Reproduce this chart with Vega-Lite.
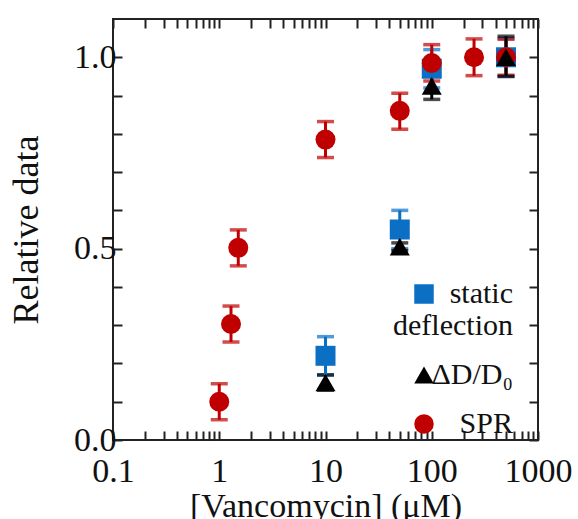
{
  "$schema": "https://vega.github.io/schema/vega-lite/v6.json",
  "width": 425,
  "height": 421,
  "autosize": {"type": "none"},
  "padding": {"left": 113, "top": 19, "right": 40, "bottom": 79},
  "background": "white",
  "config": {
    "font": "Liberation Serif",
    "view": {"stroke": "#222", "strokeWidth": 2},
    "axis": {"grid": false, "domain": false, "tickColor": "#222", "tickWidth": 2, "labelFont": "Liberation Serif", "titleFont": "Liberation Serif", "labelColor": "#111", "titleColor": "#111", "titleFontWeight": "normal"},
    "legend": {"orient": "none", "legendX": 296, "legendY": 260, "title": null, "labelFontSize": 30, "labelFont": "Liberation Serif", "labelColor": "#111", "labelLineHeight": 28, "symbolSize": 380, "symbolStrokeWidth": 0, "symbolOpacity": 1, "rowPadding": 19, "labelOffset": 74, "labelAlign": "right", "labelLimit": 200}
  },
  "datasets": {
    "pts": [
      {"series": "static deflection", "conc": 10, "value": 0.22, "lo": 0.17, "hi": 0.27},
      {"series": "static deflection", "conc": 50, "value": 0.55, "lo": 0.50, "hi": 0.60},
      {"series": "static deflection", "conc": 100, "value": 0.97, "lo": 0.92, "hi": 1.02},
      {"series": "static deflection", "conc": 500, "value": 1.0, "lo": 0.95, "hi": 1.05},
      {"series": "SPR", "conc": 1.0, "value": 0.1, "lo": 0.053, "hi": 0.147},
      {"series": "SPR", "conc": 1.29, "value": 0.303, "lo": 0.256, "hi": 0.35},
      {"series": "SPR", "conc": 1.51, "value": 0.502, "lo": 0.455, "hi": 0.549},
      {"series": "SPR", "conc": 10, "value": 0.785, "lo": 0.738, "hi": 0.832},
      {"series": "SPR", "conc": 50, "value": 0.86, "lo": 0.812, "hi": 0.906},
      {"series": "SPR", "conc": 100, "value": 0.985, "lo": 0.938, "hi": 1.033},
      {"series": "SPR", "conc": 250, "value": 1.0, "lo": 0.952, "hi": 1.048},
      {"series": "SPR", "conc": 500, "value": 1.0, "lo": 0.953, "hi": 1.047},
      {"series": "ΔD/D₀", "conc": 10, "value": 0.15, "lo": 0.13, "hi": 0.17},
      {"series": "ΔD/D₀", "conc": 50, "value": 0.505, "lo": 0.495, "hi": 0.515},
      {"series": "ΔD/D₀", "conc": 100, "value": 0.925, "lo": 0.89, "hi": 0.955},
      {"series": "ΔD/D₀", "conc": 500, "value": 1.0, "lo": 0.95, "hi": 1.055}
    ]
  },
  "data": {"name": "pts"},
  "resolve": {"axis": {"x": "independent", "y": "independent"}},
  "layer": [
    {
      "mark": {"type": "errorbar", "ticks": {"size": 17, "thickness": 3.5}, "rule": {"strokeWidth": 3}},
      "encoding": {
        "x": {"field": "conc", "type": "quantitative",
          "scale": {"type": "log", "domain": [0.1, 1000], "nice": false},
          "axis": {"orient": "bottom", "title": "[Vancomycin] (μM)", "titleFontSize": 34, "labelFontSize": 34, "tickSize": -9, "labelPadding": 23, "titlePadding": 1, "labelFlush": false,
            "values": [0.1,0.2,0.3,0.4,0.5,0.6,0.7,0.8,0.9,1,2,3,4,5,6,7,8,9,10,20,30,40,50,60,70,80,90,100,200,300,400,500,600,700,800,900,1000],
            "labelExpr": "datum.value == 0.1 ? '0.1' : datum.value == 1 ? '1' : datum.value == 10 ? '10' : datum.value == 100 ? '100' : datum.value == 1000 ? '1000' : ''"}},
        "y": {"field": "lo", "type": "quantitative",
          "scale": {"domain": [0, 1.1], "nice": false},
          "axis": {"orient": "left", "title": "Relative data", "titleFontSize": 36, "labelFontSize": 34, "tickSize": -9, "labelPadding": 6, "titlePadding": 28, "labelFlush": false,
            "values": [0,0.1,0.2,0.3,0.4,0.5,0.6,0.7,0.8,0.9,1.0],
            "labelExpr": "datum.value == 0 ? '0.0' : datum.value == 0.5 ? '0.5' : datum.value == 1 ? '1.0' : ''"}},
        "y2": {"field": "hi"},
        "color": {"field": "series", "type": "nominal",
          "scale": {"domain": ["static deflection", "ΔD/D₀", "SPR"], "range": ["#0b6fc4", "#000000", "#c00000"]},
          "legend": {"labelFont": "Liberation Serif", "labelExpr": "datum.label == 'static deflection' ? ['static', 'deflection'] : datum.label"}}
      }
    },
    {
      "mark": {"type": "point", "filled": true, "opacity": 1, "size": 400},
      "encoding": {
        "x": {"field": "conc", "type": "quantitative",
          "axis": {"orient": "top", "title": null, "labels": false, "tickSize": -9,
            "values": [0.1,0.2,0.3,0.4,0.5,0.6,0.7,0.8,0.9,1,2,3,4,5,6,7,8,9,10,20,30,40,50,60,70,80,90,100,200,300,400,500,600,700,800,900,1000]}},
        "y": {"field": "value", "type": "quantitative",
          "axis": {"orient": "right", "title": null, "labels": false, "tickSize": -9,
            "values": [0,0.1,0.2,0.3,0.4,0.5,0.6,0.7,0.8,0.9,1.0]}},
        "color": {"field": "series", "type": "nominal",
          "legend": {"labelFont": "Liberation Serif", "labelExpr": "datum.label == 'static deflection' ? ['static', 'deflection'] : datum.label"}},
        "shape": {"field": "series", "type": "nominal",
          "scale": {"domain": ["static deflection", "ΔD/D₀", "SPR"], "range": ["square", "triangle-up", "circle"]},
          "legend": {"labelFont": "Liberation Serif", "labelExpr": "datum.label == 'static deflection' ? ['static', 'deflection'] : datum.label"}}
      }
    }
  ]
}
